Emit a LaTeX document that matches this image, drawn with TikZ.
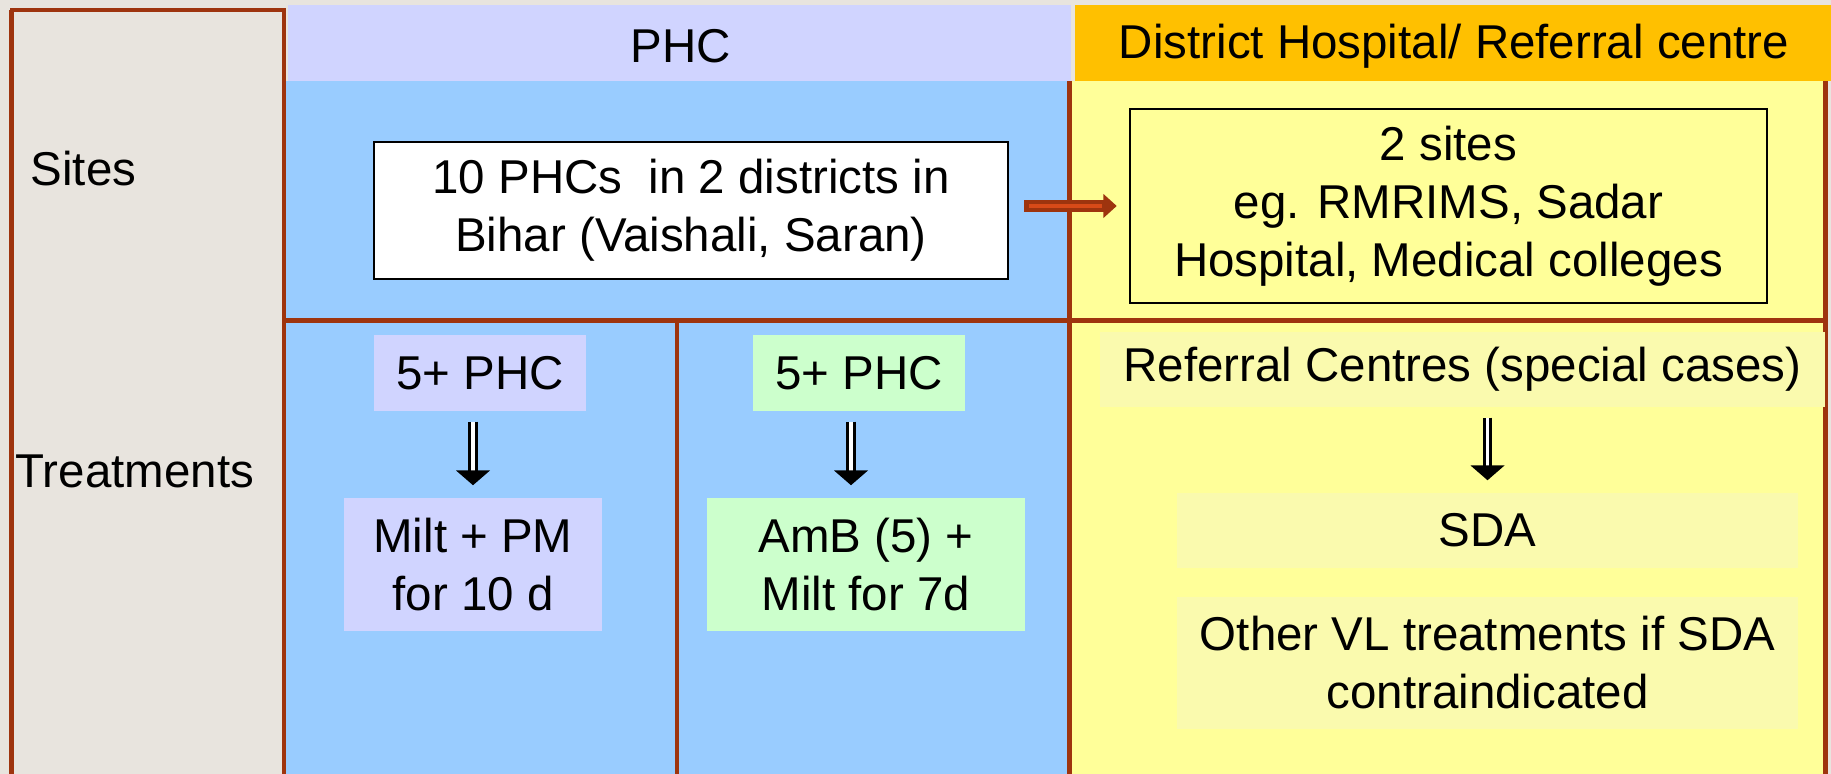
\documentclass[tikz,border=0pt]{standalone}
\usepackage{fontspec}
\setmainfont{Liberation Sans}
\usetikzlibrary{arrows.meta}

\definecolor{bgbeige}{HTML}{E8E4DE}
\definecolor{gridbrown}{RGB}{158,52,14}
\definecolor{phcblue}{HTML}{99CCFF}
\definecolor{phclav}{HTML}{D0D4FF}
\definecolor{dhorange}{HTML}{FFC000}
\definecolor{dhyellow}{HTML}{FFFF99}
\definecolor{amgreen}{HTML}{CCFFCC}
\definecolor{refpale}{HTML}{FAFAAE}
\definecolor{arrorange}{RGB}{216,74,24}

\begin{document}
\begin{tikzpicture}
  [x=0.01cm,y=-0.01cm,
   every node/.style={font=\fontsize{13.5}{16.5}\selectfont,inner sep=0pt,align=center},
   grid/.style={draw=gridbrown,line width=1.2pt},
   txtbox/.style={minimum width=#1},
   bigarr/.style={draw=gridbrown,line width=3.4pt,-{Triangle[length=3.8pt,width=6.6pt]},
     shorten <=0.15cm,shorten >=0.12cm},
   bigarrin/.style={draw=arrorange,line width=1.2pt,shorten <=0.2cm,shorten >=0.27cm},
   dblarr/.style={draw=black,double=white,double distance=1.1pt,line width=0.8pt,
     -{Triangle[length=4.2pt,width=9.5pt]},shorten <=0.1cm,shorten >=0.12cm}]
  \useasboundingbox (0,0) rectangle (1831,774);

  % cells
  \fill[bgbeige] (0,0) rectangle (1831,774);
  \fill[phcblue] (285,81) rectangle (1069,774);
  \fill[dhyellow] (1069,81) rectangle (1826,774);
  \fill[phclav] (288,5) rectangle (1071,81);
  \fill[dhorange] (1075,5) rectangle (1831,81);

  \draw[grid] (10,10) -- (286,10);
  \draw[grid] (11.5,10) -- (11.5,774);
  \draw[grid] (284,10) -- (284,774);
  \draw[grid] (1069.5,81) -- (1069.5,774);
  \draw[grid] (1825.5,81) -- (1825.5,774);
  \draw[grid] (284,320.5) -- (1826,320.5);
  \draw[grid] (677,320.5) -- (677,774);

  % headers and row labels
  \node (phchead) at (681,46) {PHC};
  \node (dhhead) at (1454,46) {District Hospital/ Referral centre};
  \node[anchor=west] (sites) at (30,169) {Sites};
  \node[anchor=west] (treat) at (15,471) {Treatments};

  % sites row
  \node[txtbox=6.34cm,minimum height=1.37cm,fill=white,draw=black,line width=0.6pt]
    (phcbox) at (691,210.5) {10 PHCs\ \ in 2 districts in\\Bihar (Vaishali, Saran)};
  \node[txtbox=6.37cm,minimum height=1.94cm,fill=dhyellow,draw=black,line width=0.6pt]
    (refbox) at (1448.5,206) {2 sites\\eg. RMRIMS, Sadar\\Hospital, Medical colleges};

  % treatments row
  \node[txtbox=2.12cm,minimum height=0.76cm,fill=phclav] (lav5) at (480,373) {5+ PHC};
  \node[txtbox=2.58cm,minimum height=1.33cm,fill=phclav] (miltpm) at (473,564.5) {Milt + PM\\for 10 d};
  \node[txtbox=2.12cm,minimum height=0.76cm,fill=amgreen] (grn5) at (859,373) {5+ PHC};
  \node[txtbox=3.18cm,minimum height=1.33cm,fill=amgreen] (amb) at (866,564.5) {AmB (5) +\\Milt for 7d};
  \node[txtbox=7.25cm,minimum height=0.75cm,fill=refpale] (refc) at (1462.5,369.5) {Referral Centres (special cases)};
  \node[txtbox=6.21cm,minimum height=0.75cm,fill=refpale] (sda) at (1487.5,530.5) {SDA};
  \node[txtbox=6.21cm,minimum height=1.32cm,fill=refpale] (other) at (1487.5,663) {Other VL treatments if SDA\\contraindicated};

  \draw[bigarr] (phcbox.east |- refbox.west) -- (refbox.west);
  \draw[bigarrin] (phcbox.east |- refbox.west) -- (refbox.west);

  \foreach \from/\to in {lav5/miltpm,refc/sda}
    \draw[dblarr] (\from.south -| \to.north) -- (\to.north);
  \draw[dblarr] ([xshift=-0.15cm]grn5.south -| amb.north) -- ([xshift=-0.15cm]amb.north);

\end{tikzpicture}
\end{document}
